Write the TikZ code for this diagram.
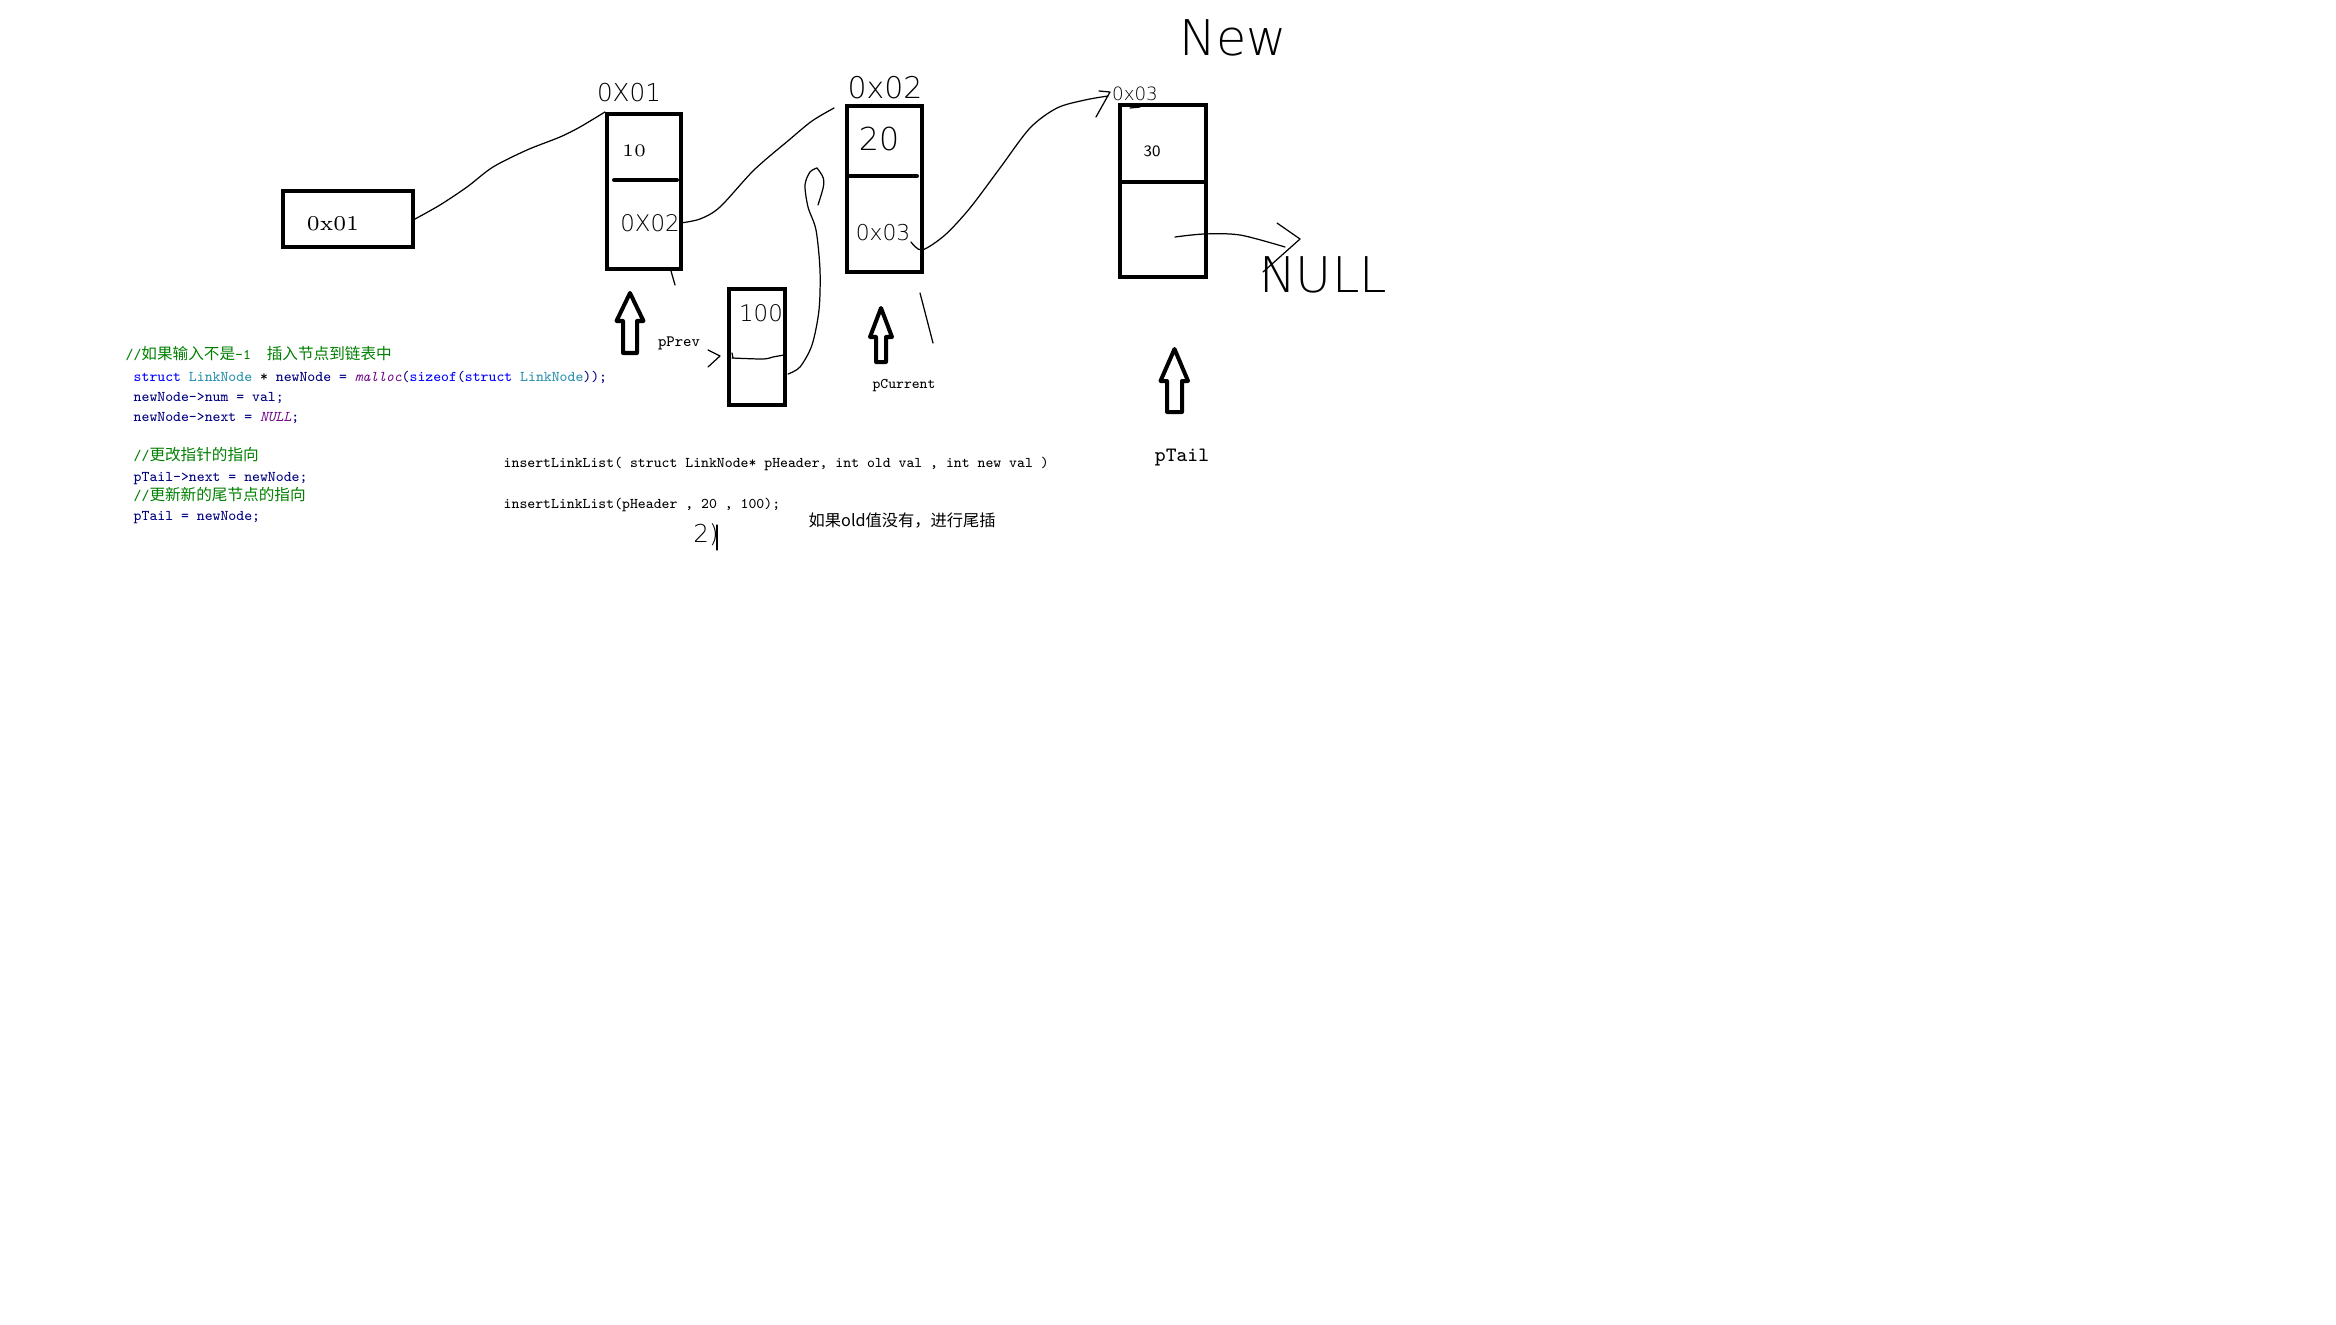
\documentclass[tikz,border=0pt]{standalone}
\usepackage{fontspec}
\usepackage{xcolor}
\newfontfamily\cjk[Scale=1.05]{Noto Sans CJK SC}
\newfontfamily\hand{DejaVuSans-ExtraLight.ttf}
\definecolor{cmtgreen}{HTML}{008000}
\definecolor{kwblue}{HTML}{0000FF}
\definecolor{typeteal}{HTML}{2B91AF}
\definecolor{idnavy}{HTML}{000080}
\definecolor{macpurple}{HTML}{6F008A}
\newcommand{\codefont}{\fontsize{4.23pt}{5pt}\ttfamily}
\newcommand{\kwd}[1]{\textcolor{kwblue}{#1}}
\newcommand{\typ}[1]{\textcolor{typeteal}{#1}}
\newcommand{\mcr}[1]{\textcolor{macpurple}{\itshape #1}}

\begin{document}
\begin{tikzpicture}[
  x=0.01cm, y=-0.01cm,
  cell/.style={draw, line width=1.14pt, inner sep=0pt},
  divider/.style={line width=1.14pt, line cap=round},
  ptr/.style={draw, line width=1.14pt, line join=round},
  hand/.style={line width=0.35pt, line cap=round, line join=round},
  handtext/.style={inner sep=0pt, font=\fontsize{#1}{#1}\hand},
  ptrlbl/.style={inner sep=0pt, font=\fontsize{#1}{#1}\ttfamily},
  code/.style={anchor=base west, inner sep=0pt, font=\codefont, text=idnavy},
  cmt/.style={code, text=cmtgreen},
]
\fill[white] (0,0) rectangle (2336,1324);
\useasboundingbox (0,0) rectangle (2336,1324);

% list nodes
\node[cell, minimum width=1.30cm, minimum height=0.56cm] (head) at (348,219) {};
\node[cell, minimum width=0.74cm, minimum height=1.55cm] (n1) at (644,191.5) {};
\node[cell, minimum width=0.75cm, minimum height=1.66cm] (n2) at (884.5,189) {};
\node[cell, minimum width=0.86cm, minimum height=1.72cm] (n3) at (1163,191) {};
\node[cell, minimum width=0.56cm, minimum height=1.16cm] (nnew) at (757,347) {};

\draw[divider] (614,180) -- (677,180);
\draw[divider] (849,176) -- (917,176);
\draw[line width=1.14pt] (1120,182) -- (1206,182);

% values
\node[font=\fontsize{6pt}{7pt}\selectfont, inner sep=0pt] (headval) at (333,224) {0x01};
\node[font=\fontsize{5pt}{6pt}\selectfont, inner sep=0pt] (val1) at (634,151) {10};
\node[font=\fontsize{4.5pt}{5pt}\sffamily, inner sep=0pt] (val3) at (1152,151) {30};

% handwriting
\node[handtext=7pt] (addr1) at (629,93) {0X01};
\node[handtext=8.5pt] (addr2) at (885,88) {0x02};
\node[handtext=5.2pt] (addr3) at (1135,94) {0x03};
\node[handtext=14pt] (newlbl) at (1233,38) {New};
\node[handtext=6.5pt] (next1) at (650,223) {0X02};
\node[handtext=6.2pt] (next2) at (883,233) {0x03};
\node[handtext=9pt] (val2) at (879,139) {20};
\node[handtext=6.5pt] (valnew) at (761,313) {100};
\node[handtext=14pt] (nulllbl) at (1323,275) {NULL};
\node[handtext=7pt] (stepno) at (706,535) {2)};

% pointers
\draw[ptr] (630,293) -- ++(13.5,28) -- ++(-6.5,0) -- ++(0,32) -- ++(-14,0) -- ++(0,-32) -- ++(-6.5,0) -- cycle;
\draw[ptr] (881,308) -- ++(11,29) -- ++(-6,0) -- ++(0,25) -- ++(-10,0) -- ++(0,-25) -- ++(-6,0) -- cycle;
\draw[ptr] (1174.5,349) -- ++(13.5,32) -- ++(-6,0) -- ++(0,31) -- ++(-15,0) -- ++(0,-31) -- ++(-6.5,0) -- cycle;
\node[ptrlbl=4.5pt] (pprev) at (679,343) {pPrev};
\node[ptrlbl=4.2pt] (pcur) at (904,386) {pCurrent};
\node[ptrlbl=5.8pt] (ptail) at (1182,458) {pTail};

% links
\coordinate (n2in) at (834,108);
\coordinate (n3in) at (1108,96);
\coordinate (newnext) at (788,374);
\coordinate (n2hook) at (817,168);
\coordinate (n3next) at (1175,237);
\draw[hand] plot[smooth] coordinates {(head.east) (440,205) (467,187) (493,167) (527,150) (560,137) (580,127) (n1.north west)};
\draw[hand] plot[smooth] coordinates {(next1.east) (700,219) (720,207) (754,170) (789,140) (812,121) (n2in)};
\draw[hand] plot[smooth] coordinates {(next2.south east) (922,250) (945,235) (970,208) (1000,168) (1030,128) (1057,108) (1085,100) (n3in)};
\draw[hand] (1099,91) -- (1110,92) -- (1096,117);
\draw[hand] plot[smooth] coordinates {(newnext) (800,367) (812,345) (819,310) (820,270) (816,230) (808,207) (805,185) (810,172) (n2hook)};
\draw[hand] (n2hook) .. controls (826,180) .. (818,205);
\draw[hand] plot[smooth] coordinates {(n3next) (1204,234) (1240,235) (1285,247)};
\draw[hand] (1277,223) -- (1300,239) -- (1263,272);

% scribbles
\draw[hand] (671,271) -- (675,285);
\draw[hand] (920,293) -- (933,343);
\draw[hand] (1130,108) -- (1140,107);
\draw[hand] (732,353) -- (733,358);
\draw[hand] plot[smooth] coordinates {(732,358) (763,359) (773,357) (784,355)};
\draw[hand] (708,350) -- (720,356) -- (708,367);
\draw[hand] (717,525) -- (717,550);

% code
\node[cmt] (c1) at (125,359) {//{\cjk 如果输入不是}-1\ \ {\cjk 插入节点到链表中}};
\node[code] (c2) at (133,381) {\kwd{struct} \typ{LinkNode} \textcolor{black}{*} newNode = \mcr{malloc}(\kwd{sizeof}(\kwd{struct} \typ{LinkNode}));};
\node[code] (c3) at (133,401) {newNode->num = val;};
\node[code] (c4) at (133,421) {newNode->next = \mcr{NULL};};
\node[cmt] (c5) at (133,460) {//{\cjk 更改指针的指向}};
\node[code] (c6) at (133,481) {pTail->next = newNode;};
\node[cmt] (c7) at (133,500) {//{\cjk 更新新的尾节点的指向}};
\node[code] (c8) at (133,520) {pTail = newNode;};

\node[code, text=black] (sig) at (503,467) {insertLinkList( struct LinkNode* pHeader, int old val , int new val )};
\node[code, text=black] (call) at (503,508) {insertLinkList(pHeader , 20 , 100);};
\node[anchor=base west, inner sep=0pt, font=\fontsize{4.4pt}{5pt}\cjk] (note) at (808,526) {如果old值没有，进行尾插};

\end{tikzpicture}
\end{document}
